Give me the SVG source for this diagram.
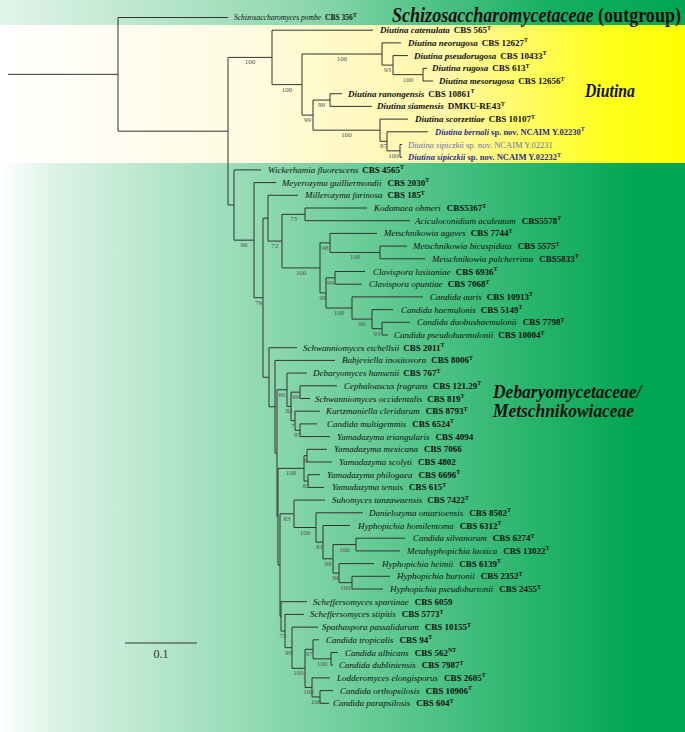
<svg xmlns="http://www.w3.org/2000/svg" width="685" height="732" viewBox="0 0 685 732">
<defs>
<linearGradient id="gTop" x1="0" y1="0" x2="1" y2="0">
<stop offset="0" stop-color="#e2f5ea"/><stop offset="0.45" stop-color="#8dd7ad"/><stop offset="0.8" stop-color="#16b062"/><stop offset="1" stop-color="#00a651"/>
</linearGradient>
<linearGradient id="gYel" x1="0" y1="0" x2="1" y2="0">
<stop offset="0" stop-color="#ffffff"/><stop offset="0.35" stop-color="#fffbe2"/><stop offset="0.65" stop-color="#fff7a8"/><stop offset="0.88" stop-color="#ffff20"/><stop offset="1" stop-color="#ffff00"/>
</linearGradient>
<linearGradient id="gGrn" x1="0" y1="0" x2="1" y2="0">
<stop offset="0" stop-color="#ffffff"/><stop offset="0.08" stop-color="#dcf3e6"/><stop offset="0.5" stop-color="#72cf9d"/><stop offset="0.93" stop-color="#00a651"/><stop offset="1" stop-color="#00a651"/>
</linearGradient>
</defs>
<style>
.t{font-family:"Liberation Serif",serif;font-size:9px;fill:#111}
.i{font-style:italic}
.bi{font-style:italic;font-weight:bold}
.b{font-weight:bold}
.s{font-size:6px;font-weight:bold}
.bs{font-family:"Liberation Serif",serif;font-size:7px;fill:#555;text-anchor:middle}
.ttl{font-family:"Liberation Serif",serif;font-weight:bold;fill:#111}
.blue{fill:#2b2f8f;font-size:8.5px}
.lblue{fill:#6a6fb3;font-size:8.5px}
.sm{font-size:7.5px}
</style>
<rect x="0" y="0" width="685" height="25" fill="url(#gTop)"/>
<rect x="0" y="25" width="685" height="138" fill="url(#gYel)"/>
<rect x="0" y="163" width="685" height="569" fill="url(#gGrn)"/>

<g id="connectors" fill="none" stroke="#333" stroke-width="1">
<path d="M8,74.35H118M118,17.5V131.2M118,17.5H228M118,131.2H228M228,57.4V205
M228,57.4H272M272,30.2V84.6M272,30.2H373M272,84.6H302M302,54V115.1M302,54H382M382,42.9V65.1M382,42.9H401M382,65.1H393M393,55.6V74.65M393,55.6H408M393,74.65H423M423,68.3V81M423,68.3H427M423,81H433
M302,115.1H313M313,100.05V130.2M313,100.05H330M330,93.7V106.4M330,93.7H342M330,106.4H372M313,130.2H380M380,119.1V141.3M380,119.1H408M380,141.3H387M387,131.8V150.85M387,131.8H428M387,150.85H400M400,144.5V157.2M400,144.5H402M400,157.2H402
M228,205H234M234,169.9V240.15M234,169.9H261M234,240.15H254M254,182.6V297.7M254,182.6H276M254,297.7H263M263,218.2V377.25M263,218.2H268M268,195.3V241.1M268,195.3H298M268,241.1H282M282,214.35V267.9M282,214.35H305M305,208V220.7M305,208H367M305,220.7H410
M282,267.9H320M320,242.9V292.9M320,242.9H330M330,233.4V252.45M330,233.4H377M330,252.45H380M380,246.1V258.8M380,246.1H407M380,258.8H425M320,292.9H326M326,277.85V308M326,277.85H335M335,271.5V284.2M335,271.5H365M335,284.2H362M326,308H352M352,296.9V319.1M352,296.9H423M352,319.1H372M372,309.6V328.65M372,309.6H393M372,328.65H382M382,322.3V335M382,322.3H410M382,335H388
M263,377.25H269M269,347.7V406.8M269,347.7H297M269,406.8H275M275,360.4V453.2M275,360.4H335M275,453.2H277M277,389.75V516.7M277,389.75H287M287,373.1V406.4M287,373.1H307M287,406.4H291M291,392.15V420.7M291,392.15H300M300,385.8V398.5M300,385.8H337M300,398.5H310M291,420.7H295M295,411.2V430.25M295,411.2H320M295,430.25H300M300,423.9V436.6M300,423.9H317M300,436.6H330
M277,516.7H278M278,468.35V565.1M278,468.35H304M304,455.65V481.05M304,455.65H307M307,449.3V462M307,449.3H327M307,462H332M304,481.05H308M308,474.7V487.4M308,474.7H320M308,487.4H324
M278,565.1H280M280,513.8V616.4M280,513.8H294M294,500.1V527.5M294,500.1H325M294,527.5H316M316,512.8V542.15M316,512.8H363M316,542.15H323M323,525.5V558.8M323,525.5H350M323,558.8H333M333,544.55V573.1M333,544.55H356M356,538.2V550.9M356,538.2H405M356,550.9H400M333,573.1H339M339,563.6V582.65M339,563.6H374M339,582.65H352M352,576.3V589M352,576.3H390M352,589H383
M280,616.4H281M281,601.7V631.05M281,601.7H307M281,631.05H285M285,614.4V647.7M285,614.4H304M285,647.7H292M292,627.1V668.35M292,627.1H318M292,668.35H305M305,649.3V687.4M305,649.3H313M313,639.8V658.85M313,639.8H319M313,658.85H331M331,652.5V665.2M331,652.5H338M331,665.2H333M305,687.4H312M312,677.9V696.95M312,677.9H330M312,696.95H320M320,690.6V703.3M320,690.6H333M320,703.3H329"/>
<path d="M125,643H197"/>
</g>

<g id="support">
<text class="bs" x="250" y="64.4">100</text>
<text class="bs" x="287" y="91.6">100</text>
<text class="bs" x="342" y="61">100</text>
<text class="bs" x="387.5" y="72.1">93</text>
<text class="bs" x="408" y="81.65">100</text>
<text class="bs" x="307.5" y="122.1">99</text>
<text class="bs" x="321.5" y="107.05">99</text>
<text class="bs" x="346.5" y="137.2">100</text>
<text class="bs" x="383.5" y="148.3">87</text>
<text class="bs" x="393.5" y="157.85">100</text>
<text class="bs" x="244" y="247.15">96</text>
<text class="bs" x="258.5" y="304.7">79</text>
<text class="bs" x="275" y="248.1">72</text>
<text class="bs" x="293.5" y="221.35">73</text>
<text class="bs" x="301" y="274.9">100</text>
<text class="bs" x="325" y="249.9">98</text>
<text class="bs" x="355" y="259.45">100</text>
<text class="bs" x="323" y="299.9">98</text>
<text class="bs" x="330.5" y="284.85">99</text>
<text class="bs" x="339" y="315">100</text>
<text class="bs" x="362" y="326.1">96</text>
<text class="bs" x="377" y="335.65">93</text>
<text class="bs" x="282" y="396.75">86</text>
<text class="bs" x="295.5" y="399.15">99</text>
<text class="bs" x="289" y="413.4">82</text>
<text class="bs" x="293" y="427.7">7</text>
<text class="bs" x="297.5" y="437.25">97</text>
<text class="bs" x="291" y="475.35">100</text>
<text class="bs" x="305.5" y="462.65">8</text>
<text class="bs" x="306" y="488.05">82</text>
<text class="bs" x="287" y="520.8">83</text>
<text class="bs" x="305" y="534.5">100</text>
<text class="bs" x="319.5" y="549.15">81</text>
<text class="bs" x="328" y="565.8">99</text>
<text class="bs" x="344.5" y="551.55">100</text>
<text class="bs" x="336" y="580.1">96</text>
<text class="bs" x="345.5" y="589.65">100</text>
<text class="bs" x="283" y="638.05">72</text>
<text class="bs" x="288.5" y="654.7">99</text>
<text class="bs" x="298.5" y="675.35">100</text>
<text class="bs" x="309" y="656.3">97</text>
<text class="bs" x="322" y="665.85">100</text>
<text class="bs" x="308.5" y="694.4">100</text>
<text class="bs" x="316" y="703.95">100</text>
</g>

<g id="n01"><text class="t sm" x="234" y="20"><tspan class="i">Schizosaccharomyces pombe</tspan><tspan class="b" dx="4">CBS 356</tspan><tspan class="s" dy="-3.5">T</tspan></text></g>
<g id="n02"><text class="t" x="380" y="33.2"><tspan class="bi">Diutina catenulata</tspan><tspan class="b" dx="4">CBS 565</tspan><tspan class="s" dy="-3.5">T</tspan></text></g>
<g id="n03"><text class="t" x="408" y="45.9"><tspan class="bi">Diutina neorugosa</tspan><tspan class="b" dx="4">CBS 12627</tspan><tspan class="s" dy="-3.5">T</tspan></text></g>
<g id="n04"><text class="t" x="414" y="58.6"><tspan class="bi">Diutina pseudorugosa</tspan><tspan class="b" dx="4">CBS 10433</tspan><tspan class="s" dy="-3.5">T</tspan></text></g>
<g id="n05"><text class="t" x="432" y="71.3"><tspan class="bi">Diutina rugosa</tspan><tspan class="b" dx="4">CBS 613</tspan><tspan class="s" dy="-3.5">T</tspan></text></g>
<g id="n06"><text class="t" x="439" y="84"><tspan class="bi">Diutina mesorugosa</tspan><tspan class="b" dx="4">CBS 12656</tspan><tspan class="s" dy="-3.5">T</tspan></text></g>
<g id="n07"><text class="t" x="348" y="96.7"><tspan class="bi">Diutina ranongensis</tspan><tspan class="b" dx="4">CBS 10861</tspan><tspan class="s" dy="-3.5">T</tspan></text></g>
<g id="n08"><text class="t" x="377" y="109.4"><tspan class="bi">Diutina siamensis</tspan><tspan class="b" dx="4">DMKU-RE43</tspan><tspan class="s" dy="-3.5">T</tspan></text></g>
<g id="n09"><text class="t" x="415" y="122.1"><tspan class="bi">Diutina scorzettiae</tspan><tspan class="b" dx="4">CBS 10107</tspan><tspan class="s" dy="-3.5">T</tspan></text></g>
<g id="n10"><text class="t blue" x="435" y="134.8"><tspan class="bi">Diutina bernali</tspan><tspan class="b" dx="2">sp. nov. NCAIM Y.02230</tspan><tspan class="s" dy="-3.5">T</tspan></text></g>
<g id="n11"><text class="t lblue" x="408" y="147.5"><tspan class="i">Diutina sipiczkii</tspan><tspan dx="2">sp. nov. NCAIM Y.02231</tspan></text></g>
<g id="n12"><text class="t blue" x="408" y="160.2"><tspan class="bi">Diutina sipiczkii</tspan><tspan class="b" dx="2">sp. nov. NCAIM Y.02232</tspan><tspan class="s" dy="-3.5">T</tspan></text></g>
<g id="n13"><text class="t" x="268" y="172.9"><tspan class="i">Wickerhamia fluorescens</tspan><tspan class="b" dx="4">CBS 4565</tspan><tspan class="s" dy="-3.5">T</tspan></text></g>
<g id="n14"><text class="t" x="282" y="185.6"><tspan class="i">Meyerozyma guilliermondii</tspan><tspan class="b" dx="6">CBS 2030</tspan><tspan class="s" dy="-3.5">T</tspan></text></g>
<g id="n15"><text class="t" x="305" y="198.3"><tspan class="i">Millerozyma farinosa</tspan><tspan class="b" dx="5">CBS 185</tspan><tspan class="s" dy="-3.5">T</tspan></text></g>
<g id="n16"><text class="t" x="374" y="211"><tspan class="i">Kodamaea ohmeri</tspan><tspan class="b" dx="6">CBS5367</tspan><tspan class="s" dy="-3.5">T</tspan></text></g>
<g id="n17"><text class="t" x="415" y="223.7"><tspan class="i">Aciculoconidium aculeatum</tspan><tspan class="b" dx="6">CBS5578</tspan><tspan class="s" dy="-3.5">T</tspan></text></g>
<g id="n18"><text class="t" x="384" y="236.4"><tspan class="i">Metschnikowia agaves</tspan><tspan class="b" dx="5">CBS 7744</tspan><tspan class="s" dy="-3.5">T</tspan></text></g>
<g id="n19"><text class="t" x="413" y="249.1"><tspan class="i">Metschnikowia bicuspidata</tspan><tspan class="b" dx="6">CBS 5575</tspan><tspan class="s" dy="-3.5">T</tspan></text></g>
<g id="n20"><text class="t" x="432" y="261.8"><tspan class="i">Metschnikowia pulcherrima</tspan><tspan class="b" dx="6">CBS5833</tspan><tspan class="s" dy="-3.5">T</tspan></text></g>
<g id="n21"><text class="t" x="373" y="274.5"><tspan class="i">Clavispora lusitaniae</tspan><tspan class="b" dx="5">CBS 6936</tspan><tspan class="s" dy="-3.5">T</tspan></text></g>
<g id="n22"><text class="t" x="369" y="287.2"><tspan class="i">Clavispora opuntiae</tspan><tspan class="b" dx="5">CBS 7068</tspan><tspan class="s" dy="-3.5">T</tspan></text></g>
<g id="n23"><text class="t" x="430" y="299.9"><tspan class="i">Candida auris</tspan><tspan class="b" dx="5">CBS 10913</tspan><tspan class="s" dy="-3.5">T</tspan></text></g>
<g id="n24"><text class="t" x="401" y="312.6"><tspan class="i">Candida haemulonis</tspan><tspan class="b" dx="5">CBS 5149</tspan><tspan class="s" dy="-3.5">T</tspan></text></g>
<g id="n25"><text class="t" x="417" y="325.3"><tspan class="i">Candida duobushaemulonii</tspan><tspan class="b" dx="6">CBS 7798</tspan><tspan class="s" dy="-3.5">T</tspan></text></g>
<g id="n26"><text class="t" x="394" y="338"><tspan class="i">Candida pseudohaemulonii</tspan><tspan class="b" dx="5">CBS 10004</tspan><tspan class="s" dy="-3.5">T</tspan></text></g>
<g id="n27"><text class="t" x="303" y="350.7"><tspan class="i">Schwanniomyces etchellsii</tspan><tspan class="b" dx="4">CBS 2011</tspan><tspan class="s" dy="-3.5">T</tspan></text></g>
<g id="n28"><text class="t" x="342" y="363.4"><tspan class="i">Babjeviella inositovora</tspan><tspan class="b" dx="5">CBS 8006</tspan><tspan class="s" dy="-3.5">T</tspan></text></g>
<g id="n29"><text class="t" x="313" y="376.1"><tspan class="i">Debaryomyces hansenii</tspan><tspan class="b" dx="4">CBS 767</tspan><tspan class="s" dy="-3.5">T</tspan></text></g>
<g id="n30"><text class="t" x="344" y="388.8"><tspan class="i">Cephaloascus fragrans</tspan><tspan class="b" dx="5">CBS 121.29</tspan><tspan class="s" dy="-3.5">T</tspan></text></g>
<g id="n31"><text class="t" x="315" y="401.5"><tspan class="i">Schwanniomyces occidentalis</tspan><tspan class="b" dx="5">CBS 819</tspan><tspan class="s" dy="-3.5">T</tspan></text></g>
<g id="n32"><text class="t" x="326" y="414.2"><tspan class="i">Kurtzmaniella cleridarum</tspan><tspan class="b" dx="6">CBS 8793</tspan><tspan class="s" dy="-3.5">T</tspan></text></g>
<g id="n33"><text class="t" x="327" y="426.9"><tspan class="i">Candida multigemmis</tspan><tspan class="b" dx="6">CBS 6524</tspan><tspan class="s" dy="-3.5">T</tspan></text></g>
<g id="n34"><text class="t" x="337" y="439.6"><tspan class="i">Yamadazyma triangularis</tspan><tspan class="b" dx="6">CBS 4094</tspan></text></g>
<g id="n35"><text class="t" x="334" y="452.3"><tspan class="i">Yamadazyma mexicana</tspan><tspan class="b" dx="6">CBS 7066</tspan></text></g>
<g id="n36"><text class="t" x="339" y="465"><tspan class="i">Yamadazyma scolyti</tspan><tspan class="b" dx="6">CBS 4802</tspan></text></g>
<g id="n37"><text class="t" x="327" y="477.7"><tspan class="i">Yamadazyma philogaea</tspan><tspan class="b" dx="6">CBS 6696</tspan><tspan class="s" dy="-3.5">T</tspan></text></g>
<g id="n38"><text class="t" x="332" y="490.4"><tspan class="i">Yamadazyma tenuis</tspan><tspan class="b" dx="6">CBS 615</tspan><tspan class="s" dy="-3.5">T</tspan></text></g>
<g id="n39"><text class="t" x="332" y="503.1"><tspan class="i">Suhomyces tanzawaensis</tspan><tspan class="b" dx="5">CBS 7422</tspan><tspan class="s" dy="-3.5">T</tspan></text></g>
<g id="n40"><text class="t" x="369" y="515.8"><tspan class="i">Danielozyma ontarioensis</tspan><tspan class="b" dx="6">CBS 8502</tspan><tspan class="s" dy="-3.5">T</tspan></text></g>
<g id="n41"><text class="t" x="358" y="528.5"><tspan class="i">Hyphopichia homilentoma</tspan><tspan class="b" dx="6">CBS 6312</tspan><tspan class="s" dy="-3.5">T</tspan></text></g>
<g id="n42"><text class="t" x="413" y="541.2"><tspan class="i">Candida silvanorum</tspan><tspan class="b" dx="6">CBS 6274</tspan><tspan class="s" dy="-3.5">T</tspan></text></g>
<g id="n43"><text class="t" x="407" y="553.9"><tspan class="i">Metahyphopichia laotica</tspan><tspan class="b" dx="6">CBS 13022</tspan><tspan class="s" dy="-3.5">T</tspan></text></g>
<g id="n44"><text class="t" x="382" y="566.6"><tspan class="i">Hyphopichia heimii</tspan><tspan class="b" dx="6">CBS 6139</tspan><tspan class="s" dy="-3.5">T</tspan></text></g>
<g id="n45"><text class="t" x="397" y="579.3"><tspan class="i">Hyphopichia burtonii</tspan><tspan class="b" dx="6">CBS 2352</tspan><tspan class="s" dy="-3.5">T</tspan></text></g>
<g id="n46"><text class="t" x="390" y="592"><tspan class="i">Hyphopichia pseudoburtonii</tspan><tspan class="b" dx="6">CBS 2455</tspan><tspan class="s" dy="-3.5">T</tspan></text></g>
<g id="n47"><text class="t" x="313" y="604.7"><tspan class="i">Scheffersomyces spartinae</tspan><tspan class="b" dx="6">CBS 6059</tspan></text></g>
<g id="n48"><text class="t" x="310" y="617.4"><tspan class="i">Scheffersomyces stipitis</tspan><tspan class="b" dx="6">CBS 5773</tspan><tspan class="s" dy="-3.5">T</tspan></text></g>
<g id="n49"><text class="t" x="322" y="630.1"><tspan class="i">Spathaspora passalidarum</tspan><tspan class="b" dx="6">CBS 10155</tspan><tspan class="s" dy="-3.5">T</tspan></text></g>
<g id="n50"><text class="t" x="326" y="642.8"><tspan class="i">Candida tropicalis</tspan><tspan class="b" dx="6">CBS 94</tspan><tspan class="s" dy="-3.5">T</tspan></text></g>
<g id="n51"><text class="t" x="345" y="655.5"><tspan class="i">Candida albicans</tspan><tspan class="b" dx="6">CBS 562</tspan><tspan class="s" dy="-3.5">NT</tspan></text></g>
<g id="n52"><text class="t" x="339" y="668.2"><tspan class="i">Candida dubliniensis</tspan><tspan class="b" dx="6">CBS 7987</tspan><tspan class="s" dy="-3.5">T</tspan></text></g>
<g id="n53"><text class="t" x="337" y="680.9"><tspan class="i">Lodderomyces elongisporus</tspan><tspan class="b" dx="6">CBS 2605</tspan><tspan class="s" dy="-3.5">T</tspan></text></g>
<g id="n54"><text class="t" x="340" y="693.6"><tspan class="i">Candida orthopsilosis</tspan><tspan class="b" dx="6">CBS 10906</tspan><tspan class="s" dy="-3.5">T</tspan></text></g>
<g id="n55"><text class="t" x="333" y="706.3"><tspan class="i">Candida parapsilosis</tspan><tspan class="b" dx="6">CBS 604</tspan><tspan class="s" dy="-3.5">T</tspan></text></g>

<g id="titles">
<text class="ttl" transform="translate(392,21.5) scale(0.86,1)" x="0" y="0" font-size="21"><tspan font-style="italic">Schizosaccharomycetaceae</tspan> (outgroup)</text>
<text class="ttl" transform="translate(585,97) scale(0.83,1)" x="0" y="0" font-size="19" font-style="italic">Diutina</text>
<text class="ttl" transform="translate(493,398) scale(0.92,1)" x="0" y="0" font-size="19" font-style="italic">Debaryomycetaceae/</text>
<text class="ttl" transform="translate(493,417) scale(0.915,1)" x="0" y="0" font-size="19" font-style="italic">Metschnikowiaceae</text>
</g>
<g id="scale">
<text x="161" y="658" font-family="Liberation Serif, serif" font-size="12" fill="#333" text-anchor="middle">0.1</text>
</g>
</svg>
